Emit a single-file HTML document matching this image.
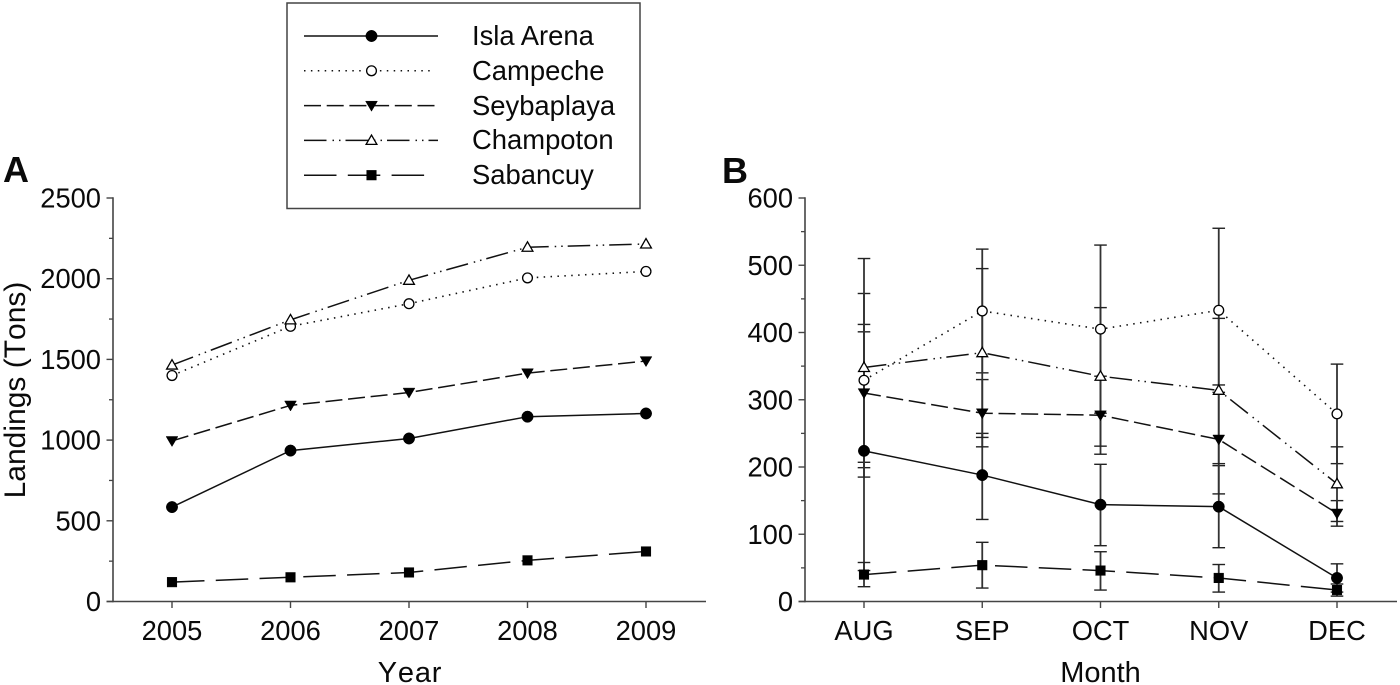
<!DOCTYPE html>
<html>
<head>
<meta charset="utf-8">
<title>Landings by year and month</title>
<style>
html,body{margin:0;padding:0;background:#fff;}
svg{display:block;filter:blur(0.3px);}
text{font-family:"Liberation Sans",sans-serif;fill:#0a0a0a;}
</style>
</head>
<body>
<svg id="chart" xmlns="http://www.w3.org/2000/svg" width="1400" height="685" viewBox="0 0 1400 685">
  <rect x="0" y="0" width="1400" height="685" fill="#fff"/>
  <text x="3" y="182" font-size="36" font-weight="bold">A</text>
  <text x="722" y="183" font-size="36" font-weight="bold">B</text>
  <text transform="translate(25,390) rotate(-90)" text-anchor="middle" font-size="30" style="font-kerning:none">Landings (Tons)</text>
  <text x="410" y="682" text-anchor="middle" font-size="29" letter-spacing="0.8" style="font-kerning:none">Year</text>
  <text x="1100.500" y="682" text-anchor="middle" font-size="29">Month</text>
  <g id="legend">
    <rect x="287" y="3" width="353" height="205.500" fill="#fff" stroke="#444" stroke-width="1.500"/>
    <text x="472" y="45" font-size="27.400">Isla Arena</text>
    <text x="472" y="80" font-size="27.400">Campeche</text>
    <text x="472" y="115" font-size="27.400">Seybaplaya</text>
    <text x="472" y="149" font-size="27.400">Champoton</text>
    <text x="472" y="184" font-size="27.400">Sabancuy</text>
  </g>
</svg>
<script>
var years = ['2005', '2006', '2007', '2008', '2009'];
var months = ['AUG', 'SEP', 'OCT', 'NOV', 'DEC'];
var seriesNames = ['isla-arena', 'campeche', 'seybaplaya', 'champoton', 'sabancuy'];

var yearTicks = [0, 500, 1000, 1500, 2000, 2500];
var monthTicks = [0, 100, 200, 300, 400, 500, 600];

var yearIslaArena = [585, 935, 1010, 1145, 1165];
var yearCampeche = [1400, 1705, 1845, 2005, 2045];
var yearSeybaplaya = [995, 1215, 1295, 1415, 1490];
var yearChampoton = [1465, 1745, 1990, 2195, 2215];
var yearSabancuy = [120, 150, 180, 255, 310];

var monthIslaArena = [224, 188, 144, 141, 35];
var monthCampeche = [329, 432, 405, 433, 279];
var monthSeybaplaya = [310, 280, 277, 241, 131];
var monthChampoton = [348, 370, 335, 314, 175];
var monthSabancuy = [40, 54, 46, 35, 17];

var upperIslaArena = [401, 250, 204, 202, 56];
var upperCampeche = [458, 524, 530, 555, 353];
var upperSeybaplaya = [412, 330, 335, 322, 150];
var upperChampoton = [510, 495, 437, 421, 230];
var upperSabancuy = [58, 88, 74, 55, 26];

var lowerIslaArena = [46, 122, 83, 80, 14];
var lowerCampeche = [199, 340, 280, 311, 205];
var lowerSeybaplaya = [207, 230, 219, 160, 112];
var lowerChampoton = [185, 244, 231, 205, 119];
var lowerSabancuy = [22, 20, 17, 14, 8];

var dashes = ['', '1.5 5.4', '17 5.7', '22.5 6 1.5 5 1.5 5', '32.5 11.3'];
var legendEnds = [438, 433, 435, 438, 426];
var legendRows = [0, 1, 2, 3, 4];

var NS = 'http://www.w3.org/2000/svg';
var svg = document.getElementById('chart');
var legendGroup = document.getElementById('legend');

function scaleY(value, max) {
  return 601.5 - value / max * 403.5;
}
function scaleXA(i) {
  return 172 + i * 118.5;
}
function scaleXB(i) {
  return 864 + i * 118.25;
}
function legendY(row) {
  return 36 + row * 34.8;
}

function seg(parent, x1, y1, x2, y2, color, width, name) {
  var el = document.createElementNS(NS, 'line');
  el.setAttribute('x1', x1);
  el.setAttribute('y1', y1);
  el.setAttribute('x2', x2);
  el.setAttribute('y2', y2);
  el.setAttribute('stroke', color);
  el.setAttribute('stroke-width', width);
  
  
  parent.appendChild(el);
  return el;
}

function label(x, y, anchor, content, name) {
  var el = document.createElementNS(NS, 'text');
  el.setAttribute('x', x);
  el.setAttribute('y', y);
  el.setAttribute('text-anchor', anchor);
  el.setAttribute('font-size', '27.3');
  el.textContent = content;
  
  
  svg.appendChild(el);
}

function marker(parent, kind, x, y, name) {
  var el;
  if (kind === 0 || kind === 1) {
    el = document.createElementNS(NS, 'circle');
    el.setAttribute('cx', x);
    el.setAttribute('cy', y);
    el.setAttribute('r', kind === 0 ? 5.7 : 4.9);
  } else if (kind === 2) {
    el = document.createElementNS(NS, 'polygon');
    el.setAttribute('points', (x - 5.9) + ',' + (y - 4.4) + ' ' + (x + 5.9) + ',' + (y - 4.4) + ' ' + x + ',' + (y + 5.6));
  } else if (kind === 3) {
    el = document.createElementNS(NS, 'polygon');
    el.setAttribute('points', (x - 5.4) + ',' + (y + 4) + ' ' + (x + 5.4) + ',' + (y + 4) + ' ' + x + ',' + (y - 5.4));
  } else {
    el = document.createElementNS(NS, 'rect');
    el.setAttribute('x', x - 4.8);
    el.setAttribute('y', y - 4.8);
    el.setAttribute('width', 9.6);
    el.setAttribute('height', 9.6);
  }
  var open = kind === 1 || kind === 3;
  el.setAttribute('fill', open ? '#fff' : '#000');
  el.setAttribute('stroke', '#000');
  el.setAttribute('stroke-width', open ? 1.3 : 0.5);
  
  
  parent.appendChild(el);
}

function seriesLine(values, xFn, max, kind, name) {
  var pts = [];
  for (var i = 0; i < values.length; i++) {
    pts.push(xFn(i) + ',' + scaleY(values[i], max));
  }
  var el = document.createElementNS(NS, 'polyline');
  el.setAttribute('points', pts.join(' '));
  el.setAttribute('fill', 'none');
  el.setAttribute('stroke', '#111');
  el.setAttribute('stroke-width', kind === 1 ? 1.6 : 1.5);
  if (dashes[kind]) {
    el.setAttribute('stroke-dasharray', dashes[kind]);
  }
  
  
  svg.appendChild(el);
}

function drawAxes(prefix, axisX, endX, ticks, max, cats, xFn) {
  var axisColor = '#444';
  seg(svg, axisX, scaleY(max, max) - 0.7, axisX, 602.2, axisColor, 1.6, prefix + '-y-axis-line');
  seg(svg, axisX - 6.5, 601.5, endX, 601.5, axisColor, 1.6, prefix + '-x-axis-line');
  for (var t = 0; t < ticks.length; t++) {
    var yy = scaleY(ticks[t], max);
    seg(svg, axisX - 6.5, yy, axisX, yy, axisColor, 1.4, prefix + '-y-tick');
    label(axisX - 12, yy + 9.5, 'end', String(ticks[t]), prefix + '-y-tick-label');
    if (t < ticks.length - 1) {
      var ym = scaleY((ticks[t] + ticks[t + 1]) / 2, max);
      seg(svg, axisX - 4, ym, axisX, ym, axisColor, 1.3, prefix + '-y-minor-tick');
    }
  }
  for (var c = 0; c < cats.length; c++) {
    seg(svg, xFn(c), 601.5, xFn(c), 608, axisColor, 1.4, prefix + '-x-tick');
    label(xFn(c), 640, 'middle', cats[c], prefix + '-x-tick-label');
  }
}

function drawErrorBars(values, upper, lower, name) {
  for (var i = 0; i < values.length; i++) {
    var x = scaleXB(i);
    var hi = scaleY(upper[i], 600);
    var lo = scaleY(lower[i], 600);
    seg(svg, x, hi, x, lo, '#333', 1.8, name + '-error-bar');
    seg(svg, x - 6.3, hi, x + 6.3, hi, '#222', 1.4, name + '-error-cap-upper');
    seg(svg, x - 6.3, lo, x + 6.3, lo, '#222', 1.4, name + '-error-cap-lower');
  }
}

function drawSeries(allValues, xFn, max, prefix) {
  for (var s = 0; s < allValues.length; s++) {
    seriesLine(allValues[s], xFn, max, s, prefix + '-line-' + seriesNames[s]);
  }
  for (var k = 0; k < allValues.length; k++) {
    for (var i = 0; i < allValues[k].length; i++) {
      marker(svg, k, xFn(i), scaleY(allValues[k][i], max), prefix + '-point-' + seriesNames[k]);
    }
  }
}

function drawLegend() {
  for (var r = 0; r < legendRows.length; r++) {
    var y = legendY(legendRows[r]);
    var el = seg(legendGroup, 304, y, legendEnds[r], y, '#111', 1.5, 'legend-line-' + seriesNames[r]);
    if (dashes[r]) {
      el.setAttribute('stroke-dasharray', dashes[r]);
    }
    marker(legendGroup, r, 371.500, y, 'legend-marker-' + seriesNames[r]);
  }
}

var yearSeries = [yearIslaArena, yearCampeche, yearSeybaplaya, yearChampoton, yearSabancuy];
var monthSeries = [monthIslaArena, monthCampeche, monthSeybaplaya, monthChampoton, monthSabancuy];
var upperSeries = [upperIslaArena, upperCampeche, upperSeybaplaya, upperChampoton, upperSabancuy];
var lowerSeries = [lowerIslaArena, lowerCampeche, lowerSeybaplaya, lowerChampoton, lowerSabancuy];

drawAxes('panel-a', 113, 706, yearTicks, 2500, years, scaleXA);
drawAxes('panel-b', 805, 1397, monthTicks, 600, months, scaleXB);
drawSeries(yearSeries, scaleXA, 2500, 'panel-a');
for (var e = 0; e < monthSeries.length; e++) {
  drawErrorBars(monthSeries[e], upperSeries[e], lowerSeries[e], 'panel-b-' + seriesNames[e]);
}
drawSeries(monthSeries, scaleXB, 600, 'panel-b');
drawLegend();
</script>
</body>
</html>
